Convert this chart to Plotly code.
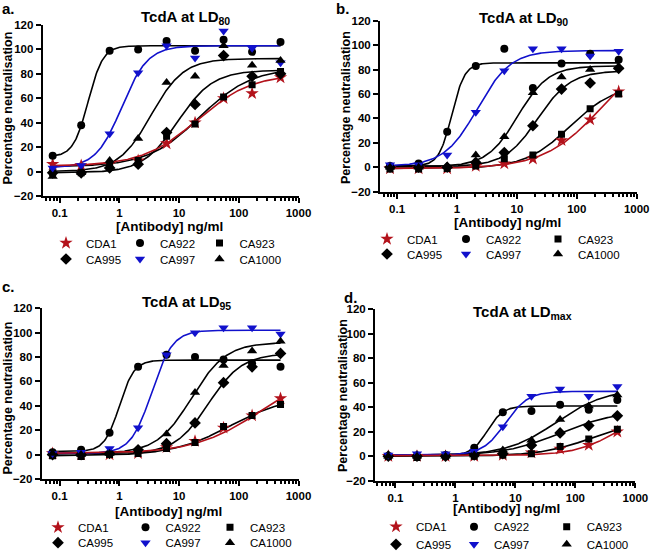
import numpy as np
import plotly.graph_objects as go

# ---------------- data ----------------
conc = [0.0762, 0.229, 0.686, 2.06, 6.17, 18.5, 55.6, 167, 500]
antibodies = ["CDA1", "CA922", "CA923", "CA995", "CA997", "CA1000"]

# Panel a: TcdA at LD80
ld80_CDA1 = [6, 5, 6, 9, 23, 40, 60, 64, 77]
ld80_CA922 = [13, 38, 99, 100, 107, 99, 108, 98, 106]
ld80_CA923 = [-1, -1, 5, 9, 29, 39, 61, 71, 82]
ld80_CA995 = [-1, -1, 3, 6, 32, 55, 95, 78, 80]
ld80_CA997 = [3, 5, 31, 81, 103, 93, 115, 101, 89]
ld80_CA1000 = [-4, -1, 9, 27, 73, 78, 103, 87, 91]
# fitted 4-parameter curves (order as antibodies)
ld80_bottom = [4.5, 12, 4, -1, 3, 0]
ld80_top = [80, 103, 85, 83, 103, 92.5]
ld80_ec50 = [20, 0.3, 22, 9.5, 1.1, 3.4]
ld80_hill = [0.95, 3.5, 1.0, 1.47, 2.0, 1.6]

# Panel b: TcdA at LD90
ld90_CDA1 = [-1, -1, -1, 1, 3, 7, 22, 39, 62]
ld90_CA922 = [1, 3, 29, 83, 97, 65, 85, 93, 88]
ld90_CA923 = [-1.5, -1.5, -1, 1, 7, 10, 27, 48, 60]
ld90_CA995 = [0, 0, 0, 4, 12, 34, 64, 69, 81]
ld90_CA997 = [2, 2, 10, 45, 79, 97, 97, 91, 95]
ld90_CA1000 = [0, 0, 1, 10, 25, 61, 74, 80, 82]
ld90_bottom = [-1, 1, -1, 0.5, 1, 0.5]
ld90_top = [100, 85.5, 68, 79, 95.5, 83]
ld90_ec50 = [266, 0.82, 77, 22.3, 2.2, 10.3]
ld90_hill = [0.9, 4.0, 1.16, 1.58, 1.57, 1.7]

# Panel c: TcdA at LD95
ld95_CDA1 = [1, 0, 0, 1, 6, 11, 22, 32, 46]
ld95_CA922 = [2, 4, 18, 72, 82, 80, 78, 75, 72]
ld95_CA923 = [-1, -1.5, 0, 1, 5, 10, 23, 32, 41]
ld95_CA995 = [0, 0, 1, 4, 9, 26, 59, 72, 83]
ld95_CA997 = [1, 2, 5, 22, 82, 100, 104, 104, 99]
ld95_CA1000 = [1, 0, 1, 3, 17, 51, 73, 85, 93]
ld95_bottom = [1, 2.5, -1, 0.5, 1, 1]
ld95_top = [70, 77.5, 48, 83, 102, 92]
ld95_ec50 = [228, 1.0, 71, 31, 3.5, 16.2]
ld95_hill = [0.8, 3.5, 0.9, 1.54, 2.49, 1.5]

# Panel d: TcdA at LDmax
ldmax_CDA1 = [0, 0, 0, 0, 1, 3, 6, 9, 20]
ldmax_CA922 = [0, 0, 1, 7, 36, 37, 42, 38, 46]
ldmax_CA923 = [0, -1, 0, 0, 1, 2, 8, 14, 22]
ldmax_CA995 = [0, 0, 0, 1, 2, 9, 19, 25, 33]
ldmax_CA997 = [1, 2, 2, 4, 24, 49, 55, 49, 57]
ldmax_CA1000 = [0, 0, 0, 1, 5, 13, 30, 41, 50]
ldmax_bottom = [0.5, 0.5, 0, 0.5, 1, 0.5]
ldmax_top = [40, 41, 30, 37, 53, 55]
ldmax_ec50 = [510, 3.4, 190, 55, 6.8, 48]
ldmax_hill = [1.2, 3.3, 1.0, 0.95, 2.3, 1.05]

x_tick_vals = [0.1, 1, 10, 100, 1000]
x_tick_text = ["0.1", "1", "10", "100", "1000"]
panel_titles = ["TcdA at LD<sub>80</sub>", "TcdA at LD<sub>90</sub>",
                "TcdA at LD<sub>95</sub>", "TcdA at LD<sub>max</sub>"]
panel_letters = ["a.", "b.", "c.", "d."]
y_title = "Percentage neutralisation"
x_title = "[Antibody] ng/ml"

panels = [
    dict(points=[ld80_CDA1, ld80_CA922, ld80_CA923, ld80_CA995, ld80_CA997, ld80_CA1000],
         bottom=ld80_bottom, top=ld80_top, ec50=ld80_ec50, hill=ld80_hill),
    dict(points=[ld90_CDA1, ld90_CA922, ld90_CA923, ld90_CA995, ld90_CA997, ld90_CA1000],
         bottom=ld90_bottom, top=ld90_top, ec50=ld90_ec50, hill=ld90_hill),
    dict(points=[ld95_CDA1, ld95_CA922, ld95_CA923, ld95_CA995, ld95_CA997, ld95_CA1000],
         bottom=ld95_bottom, top=ld95_top, ec50=ld95_ec50, hill=ld95_hill),
    dict(points=[ldmax_CDA1, ldmax_CA922, ldmax_CA923, ldmax_CA995, ldmax_CA997, ldmax_CA1000],
         bottom=ldmax_bottom, top=ldmax_top, ec50=ldmax_ec50, hill=ldmax_hill),
]

# ---------------- styles ----------------
W, H = 650, 551
FONT = "Liberation Sans, Arial, sans-serif"
RED = "#B3121B"
BLUE = "#1111CC"
BLACK = "#000000"
styles = {
    "CDA1": dict(symbol="star", color=RED, size=10, line=RED),
    "CA922": dict(symbol="circle", color=BLACK, size=8, line=BLACK),
    "CA923": dict(symbol="square", color=BLACK, size=7, line=BLACK),
    "CA995": dict(symbol="diamond", color=BLACK, size=9, line=BLACK),
    "CA997": dict(symbol="triangle-down", color=BLUE, size=9, line=BLUE),
    "CA1000": dict(symbol="triangle-up", color=BLACK, size=9, line=BLACK),
}

# layout geometry in pixels
geo = [
    dict(xpx=(42.7, 298.5), ypx=(25, 196), xr=(-1.285, 3.0),
         title=(185, 18), letter=(8.5, 8.5), ytit=(7.5, 108), xtit=(169, 226.5),
         legx=(86, 160, 239.5), legy=(243, 259)),
    dict(xpx=(380, 636.7), ypx=(20.7, 191.7), xr=(-1.285, 3.0),
         title=(523, 18.3), letter=(342.5, 9), ytit=(346, 107), xtit=(507.6, 222),
         legx=(407, 486, 578), legy=(239, 254)),
    dict(xpx=(41.7, 298.5), ypx=(308.3, 479), xr=(-1.30, 3.0),
         title=(186, 302.5), letter=(8.5, 286), ytit=(7.5, 398), xtit=(168, 511),
         legx=(78, 165.5, 250), legy=(527.3, 542.7)),
    dict(xpx=(375, 635.4), ypx=(309.3, 480.7), xr=(-1.34, 3.0),
         title=(522, 312.5), letter=(350, 297), ytit=(343, 396), xtit=(506, 508),
         legx=(416, 494, 586.7), legy=(526.7, 544.3)),
]

minor_vals = [m * 10.0 ** e for e in range(-2, 3) for m in range(2, 10)]


def fourpl(x, bottom, top, ec50, hill):
    return bottom + (top - bottom) / (1 + 10 ** ((np.log10(ec50) - np.log10(x)) * hill))


fig = go.Figure()
layout = dict(width=W, height=H, margin=dict(l=0, r=0, t=0, b=0, autoexpand=False),
              paper_bgcolor="white", plot_bgcolor="white", showlegend=True,
              annotations=[])

xcurve = np.logspace(np.log10(min(conc)), np.log10(max(conc)), 300)
draw_order = ["CA922", "CA923", "CA995", "CA1000", "CA997", "CDA1"]

leg_count = 0
for p, (pan, g) in enumerate(zip(panels, geo)):
    sfx = "" if p == 0 else str(p + 1)
    xa, ya = "x" + sfx, "y" + sfx
    # curves
    for name in draw_order:
        i = antibodies.index(name)
        yc = fourpl(xcurve, pan["bottom"][i], pan["top"][i], pan["ec50"][i], pan["hill"][i])
        fig.add_trace(go.Scatter(x=xcurve, y=yc, mode="lines", xaxis=xa, yaxis=ya,
                                 line=dict(color=styles[name]["line"], width=1.6),
                                 showlegend=False, hoverinfo="skip"))
    # points, each with its own legend entry placed like the reference key
    for i, name in enumerate(antibodies):
        st = styles[name]
        row, col = divmod(i, 3)
        leg_count += 1
        leg_id = "legend" if leg_count == 1 else "legend%d" % leg_count
        fig.add_trace(go.Scatter(x=conc, y=pan["points"][i], mode="markers", name=name,
                                 xaxis=xa, yaxis=ya, legend=leg_id,
                                 marker=dict(symbol=st["symbol"], size=st["size"],
                                             color=st["color"],
                                             line=dict(width=0, color=st["color"]))))
        layout[leg_id] = dict(
            orientation="h", x=(g["legx"][col] - 40) / W, y=1 - g["legy"][row] / H,
            xanchor="left", yanchor="middle", bgcolor="rgba(0,0,0,0)", borderwidth=0,
            itemwidth=30, font=dict(family=FONT, size=11.5, color="black"),
        )
    # axes
    x0, x1 = g["xpx"]
    yt, yb = g["ypx"]
    layout["xaxis" + sfx] = dict(
        type="log", domain=[x0 / W, x1 / W], range=list(g["xr"]), anchor=ya,
        showline=True, linecolor="black", linewidth=2, mirror=False,
        ticks="outside", ticklen=5, tickwidth=2, tickcolor="black",
        tickmode="array", tickvals=x_tick_vals, ticktext=x_tick_text,
        tickfont=dict(family=FONT, size=11.5, color="black", weight="bold"),
        showgrid=False, zeroline=False,
        minor=dict(ticks="outside", ticklen=3, tickwidth=1.5, tickcolor="black",
                   tickmode="array", tickvals=minor_vals, showgrid=False),
    )
    layout["yaxis" + sfx] = dict(
        domain=[1 - yb / H, 1 - yt / H], range=[-20, 120], anchor=xa,
        showline=True, linecolor="black", linewidth=2,
        ticks="outside", ticklen=5, tickwidth=2, tickcolor="black",
        tickmode="linear", tick0=-20, dtick=20,
        tickfont=dict(family=FONT, size=11.5, color="black", weight="bold"),
        showgrid=False, zeroline=False,
    )
    # texts
    ann = layout["annotations"]
    ann.append(dict(text=panel_titles[p], x=g["title"][0] / W, y=1 - g["title"][1] / H,
                    xref="paper", yref="paper", showarrow=False, xanchor="center", yanchor="middle",
                    font=dict(family=FONT, size=15, color="black", weight="bold")))
    ann.append(dict(text=panel_letters[p], x=g["letter"][0] / W, y=1 - g["letter"][1] / H,
                    xref="paper", yref="paper", showarrow=False, xanchor="center", yanchor="middle",
                    borderpad=0, font=dict(family=FONT, size=15, color="black", weight="bold")))
    ann.append(dict(text=y_title, x=g["ytit"][0] / W, y=1 - g["ytit"][1] / H, textangle=-90,
                    xref="paper", yref="paper", showarrow=False, xanchor="center", yanchor="middle",
                    font=dict(family=FONT, size=12.5, color="black", weight="bold")))
    ann.append(dict(text=x_title, x=g["xtit"][0] / W, y=1 - g["xtit"][1] / H,
                    xref="paper", yref="paper", showarrow=False, xanchor="center", yanchor="middle",
                    borderpad=0, font=dict(family=FONT, size=13.5, color="black", weight="bold")))

fig.update_layout(**layout)
fig.write_html("out.html", config={"displayModeBar": False},
               post_script="document.body.style.margin='0';document.body.style.padding='0';")
